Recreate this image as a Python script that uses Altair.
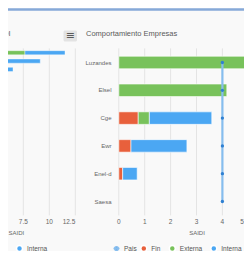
import altair as alt
import pandas as pd

# ---------------- data ----------------
titulo = "Comportamiento Empresas"
titulo_izq = "Comportamiento SAIDI"
eje_titulo = "SAIDI"

empresas = ["Luzandes", "Elsel", "Cge", "Ewr", "Enel-d", "Saesa"]
series = ["Fin", "Externa", "Interna"]
colores = ["#e8603c", "#78c25b", "#4ba7f3"]
fin = [0.0, 0.0, 0.75, 0.47, 0.15, 0.0]
externa = [4.97, 4.17, 0.43, 0.0, 0.0, 0.0]
interna = [0.0, 0.0, 2.41, 2.16, 0.56, 0.0]
pais = [4.0, 4.0, 4.0, 4.0, 4.0, 4.0]
ticks_der = [0, 1, 2, 3, 4, 5]

zonas = ["Zona A", "Zona B", "Zona C"]
fin_izq = [0.0, 0.0, 0.0]
externa_izq = [7.66, 4.2, 3.0]
interna_izq = [3.85, 4.93, 3.51]
ticks_izq = [7.5, 10, 12.5]

FONT = "Liberation Sans"
TXT = "#666666"
GRID = "#e4e4e4"

# ---------------- tables ----------------
rows = []
for i, e in enumerate(empresas):
    for k, (s, vals) in enumerate(zip(series, [fin, externa, interna])):
        if vals[i] > 0:
            rows.append({"empresa": e, "serie": s, "orden": k, "valor": vals[i]})
df_r = pd.DataFrame(rows)
df_p = pd.DataFrame({"empresa": empresas, "pais": pais,
                     "idx": list(range(len(empresas))), "serie": ["Pais"] * len(empresas)})
df_cat = pd.DataFrame({"empresa": empresas})
df_tr = pd.DataFrame({"v": ticks_der})
df_tr_mid = pd.DataFrame({"v": ticks_der[:-1]})
df_tr_end = pd.DataFrame({"v": ticks_der[-1:]})

rows = []
for i, z in enumerate(zonas):
    for k, (s, vals) in enumerate(zip(series, [fin_izq, externa_izq, interna_izq])):
        if vals[i] > 0:
            rows.append({"zona": z, "serie": s, "orden": k, "valor": vals[i]})
df_l = pd.DataFrame(rows)
df_tl = pd.DataFrame({"v": ticks_izq})
df_tl_mid = pd.DataFrame({"v": ticks_izq[:-1]})
df_tl_end = pd.DataFrame({"v": ticks_izq[-1:]})

LEG_Y = 244.5

# ---------------- right chart ----------------
xr_scale = alt.Scale(domain=[0, 5], range=[118.8, 248.3], nice=False, zero=True)
yr_scale = alt.Scale(domain=empresas, range=[48.6, 215.4], paddingInner=0.55, paddingOuter=0.275)
xr = lambda f: alt.X(f, scale=xr_scale, axis=None)
yr = lambda f: alt.Y(f, sort=empresas, scale=yr_scale, axis=None)

grid_r = alt.Chart(df_tr).mark_rule(color=GRID, strokeWidth=1).encode(
    x=xr("v:Q"), y=alt.value(48.4), y2=alt.value(215.4))

bars_r = alt.Chart(df_r).mark_bar(stroke="#ffffff", strokeWidth=0.6).encode(
    x=alt.X("valor:Q", stack="zero", scale=xr_scale, axis=None),
    y=yr("empresa:N"),
    color=alt.Color("serie:N", scale=alt.Scale(domain=series, range=colores),
                    legend=alt.Legend(orient="none", legendX=139.8, legendY=LEG_Y,
                                      direction="horizontal", title=None,
                                      symbolType="circle", symbolSize=36,
                                      labelFontSize=6.5, labelColor="#555555", labelFont=FONT,
                                      labelOffset=3.5, columnPadding=5.5, padding=0)),
    order=alt.Order("orden:Q"),
)

pais_line = alt.Chart(df_p).mark_line(strokeWidth=2.2).encode(
    x=xr("pais:Q"), y=yr("empresa:N"),
    order=alt.Order("idx:Q"),
    stroke=alt.Stroke("serie:N", scale=alt.Scale(domain=["Pais"], range=["#86bdee"]),
                      legend=alt.Legend(orient="none", legendX=112.5, legendY=LEG_Y,
                                        title=None,
                                        symbolType="M-1,0L1,0M0.6,0A0.6,0.6,0,1,1,-0.6,0A0.6,0.6,0,1,1,0.6,0",
                                        symbolSize=36, symbolStrokeWidth=1.6,
                                        symbolFillColor="#3a8ad8",
                                        labelFontSize=6.5, labelColor="#555555", labelFont=FONT,
                                        labelOffset=3.5, padding=0)),
)
pais_pts = alt.Chart(df_p).mark_point(filled=True, size=11, color="#2f80d2", opacity=1).encode(
    x=xr("pais:Q"), y=yr("empresa:N"))

cat_lbl = alt.Chart(df_cat).mark_text(align="right", baseline="middle", fontSize=6,
                                      color=TXT, font=FONT).encode(
    y=yr("empresa:N"), x=alt.value(111.5), text="empresa:N")
tick_lbl_r = alt.Chart(df_tr_mid).mark_text(align="center", baseline="middle", fontSize=6.5,
                                            color=TXT, font=FONT).encode(
    x=xr("v:Q"), y=alt.value(222), text=alt.Text("v:Q", format="~g"))
tick_lbl_r_end = alt.Chart(df_tr_end).mark_text(align="right", baseline="middle", fontSize=6.5,
                                                color=TXT, font=FONT, dx=-4.5).encode(
    x=xr("v:Q"), y=alt.value(222), text=alt.Text("v:Q", format="~g"))
right = alt.layer(grid_r, bars_r, pais_line, pais_pts, cat_lbl, tick_lbl_r, tick_lbl_r_end)

# ---------------- left chart (cut off) ----------------
xl_scale = alt.Scale(domain=[0, 12.5], range=[-54.7, 75.3], nice=False, zero=True)
yl_scale = alt.Scale(domain=zonas, range=[48.6, 73.6], paddingInner=0.5, paddingOuter=0.25)
xl = lambda f: alt.X(f, scale=xl_scale, axis=None)

grid_l = alt.Chart(df_tl).mark_rule(color=GRID, strokeWidth=1).encode(
    x=xl("v:Q"), y=alt.value(48.4), y2=alt.value(215.4))
bars_l = alt.Chart(df_l).mark_bar(stroke="#ffffff", strokeWidth=0.4).encode(
    x=alt.X("valor:Q", stack="zero", scale=xl_scale, axis=None),
    y=alt.Y("zona:N", sort=zonas, scale=yl_scale, axis=None),
    color=alt.Color("serie:N", scale=alt.Scale(domain=series, range=colores),
                    legend=alt.Legend(orient="none", legendX=15.5, legendY=LEG_Y,
                                      values=["Interna"], title=None,
                                      symbolType="circle", symbolSize=36,
                                      labelFontSize=6.5, labelColor="#555555", labelFont=FONT,
                                      labelOffset=3.5, padding=0)),
    order=alt.Order("orden:Q"),
)
tick_lbl_l = alt.Chart(df_tl_mid).mark_text(align="center", baseline="middle", fontSize=6.5,
                                            color=TXT, font=FONT).encode(
    x=xl("v:Q"), y=alt.value(222), text=alt.Text("v:Q", format="~g"))
tick_lbl_l_end = alt.Chart(df_tl_end).mark_text(align="right", baseline="middle", fontSize=6.5,
                                                color=TXT, font=FONT).encode(
    x=xl("v:Q"), y=alt.value(222), text=alt.Text("v:Q", format="~g"))
left = alt.layer(grid_l, bars_l, tick_lbl_l, tick_lbl_l_end)

# ---------------- titles & decorations ----------------
one = pd.DataFrame({"t": [titulo]})
top_line = alt.Chart(one).mark_rule(color="#86a9d8", strokeWidth=2.4).encode(
    x=alt.value(0), x2=alt.value(252), y=alt.value(9.5))
title_r = alt.Chart(one).mark_text(align="left", baseline="middle", fontSize=7.5,
                                   color="#5a5a5a", font=FONT).encode(
    x=alt.value(86), y=alt.value(34), text="t:N")
title_l = alt.Chart(pd.DataFrame({"t": [titulo_izq]})).mark_text(
    align="right", baseline="middle", fontSize=7.5, color="#5a5a5a", font=FONT).encode(
    x=alt.value(10.5), y=alt.value(34), text="t:N")
axis_t = pd.DataFrame({"t": [eje_titulo]})
axt_r = alt.Chart(axis_t).mark_text(align="center", baseline="middle", fontSize=6,
                                    color=TXT, font=FONT).encode(
    x=alt.value(197), y=alt.value(233), text="t:N")
axt_l = alt.Chart(axis_t).mark_text(align="left", baseline="middle", fontSize=6,
                                    color=TXT, font=FONT).encode(
    x=alt.value(8.5), y=alt.value(233), text="t:N")
menu_box = alt.Chart(one).mark_rect(color="#e3e3e3", cornerRadius=1.5).encode(
    x=alt.value(63.5), x2=alt.value(77), y=alt.value(30.5), y2=alt.value(41.5))
menu_icon = alt.Chart(pd.DataFrame({"t": ["\u2261"]})).mark_text(
    align="center", baseline="middle", fontSize=11, color="#5a5a5a", font="DejaVu Sans").encode(
    x=alt.value(70.3), y=alt.value(36), text="t:N")

chart = alt.layer(top_line, left, right, title_l, title_r, axt_l, axt_r,
                  menu_box, menu_icon).resolve_scale(
    x="independent", y="independent", color="independent"
).properties(
    width=244, height=216,
    autosize=alt.AutoSizeParams(type="none"),
    padding={"left": -8, "top": -8, "right": 0, "bottom": 35},
    background="#f9f9f9",
).configure_view(strokeWidth=0)

chart.save("out.html", embed_options={"renderer": "svg", "actions": False})
